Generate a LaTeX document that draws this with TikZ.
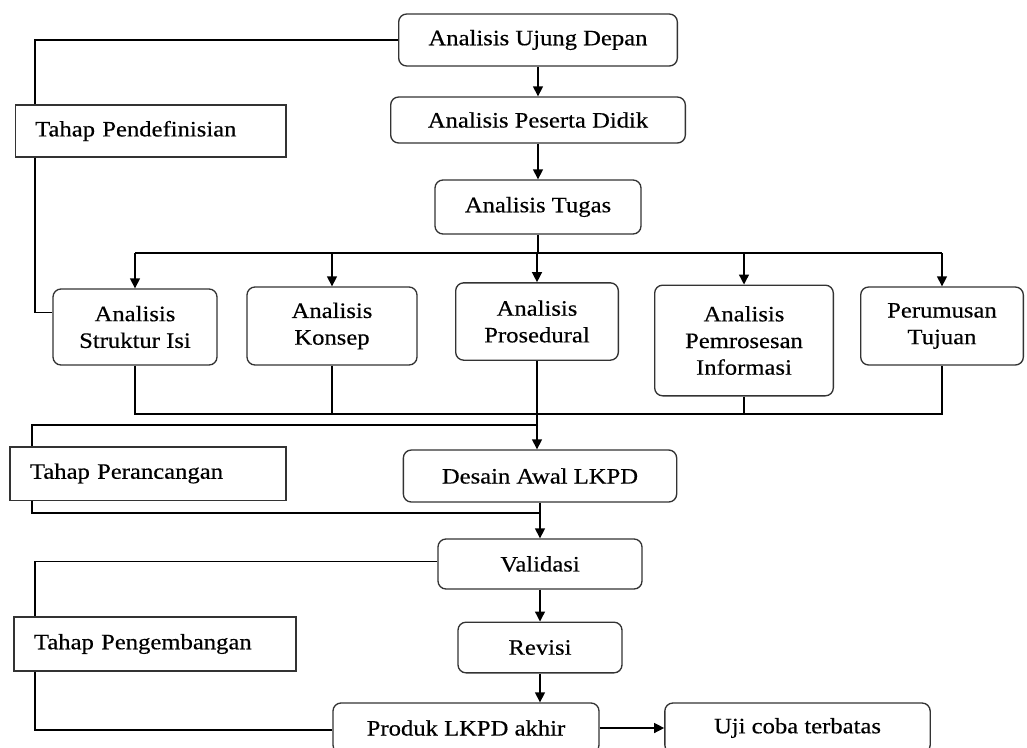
\documentclass[tikz,border=0pt]{standalone}
\usepackage{fontspec}
\setmainfont{Liberation Serif}[FakeStretch=1.12,FakeBold=0.4]
\usetikzlibrary{arrows.meta}
\tikzset{box/.style={draw=black!80,line width=1pt,rounded corners=6pt,align=center,inner sep=2pt},
 tahap/.style={draw=black!80,line width=1pt,align=left,inner xsep=15pt,inner ysep=2pt},
 flow/.style={-{Triangle[length=7.5pt,width=7.5pt]},line width=1pt},wire/.style={line width=1pt}}

\begin{document}
\begin{tikzpicture}[x=.75pt,y=-.75pt,font=\fontsize{16.5}{20}\selectfont]
\useasboundingbox (0,0) rectangle (1027,747);
% define stage
\node[box,minimum width=209pt,minimum height=39pt] (ujung) at (538,40){Analisis Ujung Depan};
\node[box,minimum width=221pt,minimum height=34.5pt] (peserta) at (538,120){Analisis Peserta Didik};
\node[box,minimum width=154.5pt,minimum height=40.5pt] (tugas) at (538,207){Analisis Tugas};
\node[box,minimum width=123pt,minimum height=57pt] (struktur) at (135,327){Analisis\\Struktur Isi};
\node[box,minimum width=127.5pt,minimum height=58.5pt] (konsep) at (332,326){Analisis\\Konsep};
\node[box,minimum width=122pt,minimum height=58pt] (prosedural) at (537,321.5){Analisis\\Prosedural};
\node[box,minimum width=134pt,minimum height=83pt] (pemrosesan) at (744,340.5){Analisis\\Pemrosesan\\Informasi};
\node[box,minimum width=122pt,minimum height=58.5pt] (perumusan) at (942,326){Perumusan\\Tujuan};
% design and development stage
\node[box,minimum width=205pt,minimum height=39pt] (desain) at (540,476){Desain Awal LKPD};
\node[box,minimum width=153pt,minimum height=37.5pt] (validasi) at (540,564){Validasi};
\node[box,minimum width=123pt,minimum height=38pt] (revisi) at (540,647.5){Revisi};
\node[box,minimum width=199.5pt,minimum height=37.5pt] (produk) at (466,728){Produk LKPD akhir};
\node[box,minimum width=199pt,minimum height=37.5pt] (uji) at (797.5,728){Uji coba terbatas};
% stage labels
\node[tahap,text width=173pt,minimum height=39pt] (pendefinisian) at (150.5,131){Tahap Pendefinisian};
\node[tahap,text width=177pt,minimum height=40pt] (perancangan) at (148,473.5){Tahap Perancangan};
\node[tahap,text width=181.5pt,minimum height=40.5pt] (pengembangan) at (155,644){Tahap Pengembangan};
\coordinate (ldef) at (35,131);\coordinate (lran) at (32,473);\coordinate (lpeng) at (35,644);
\coordinate (bus) at (538,253);\coordinate (merge) at (538,414);
\coordinate (ran1) at (538,425);\coordinate (ran2) at (540,513);
% connectors
\draw[flow](ujung)--(peserta);\draw[flow](peserta)--(tugas);
\draw[wire](tugas)--(bus);
\draw[wire](struktur.north|-bus)--(perumusan.north|-bus);
\foreach \n in {struktur,konsep,prosedural,pemrosesan,perumusan}{\draw[flow](\n.north|-bus)--(\n);}
\draw[wire](struktur)|-(perumusan.south|-merge)--(perumusan);
\draw[wire](konsep)--(konsep.south|-merge);\draw[wire](pemrosesan)--(pemrosesan.south|-merge);
\draw[flow](prosedural)--(prosedural.south|-desain.north);
\draw[flow](desain)--(validasi);\draw[flow](validasi)--(revisi);\draw[flow](revisi)--(revisi.south|-produk.north);
\draw[flow](produk)--(uji);
\draw[wire](ujung)-|(ldef|-pendefinisian.north);
\draw[wire](ldef|-pendefinisian.south)|-([yshift=11pt]struktur.west);
\draw[wire](ran1)-|(lran|-perancangan.north);
\draw[wire](lran|-perancangan.south)|-(ran2);
\draw[wire]([yshift=2pt]validasi.west)-|(lpeng|-pengembangan.north);
\draw[wire](lpeng|-pengembangan.south)|-([yshift=-1.5pt]produk.west);
\end{tikzpicture}
\end{document}
